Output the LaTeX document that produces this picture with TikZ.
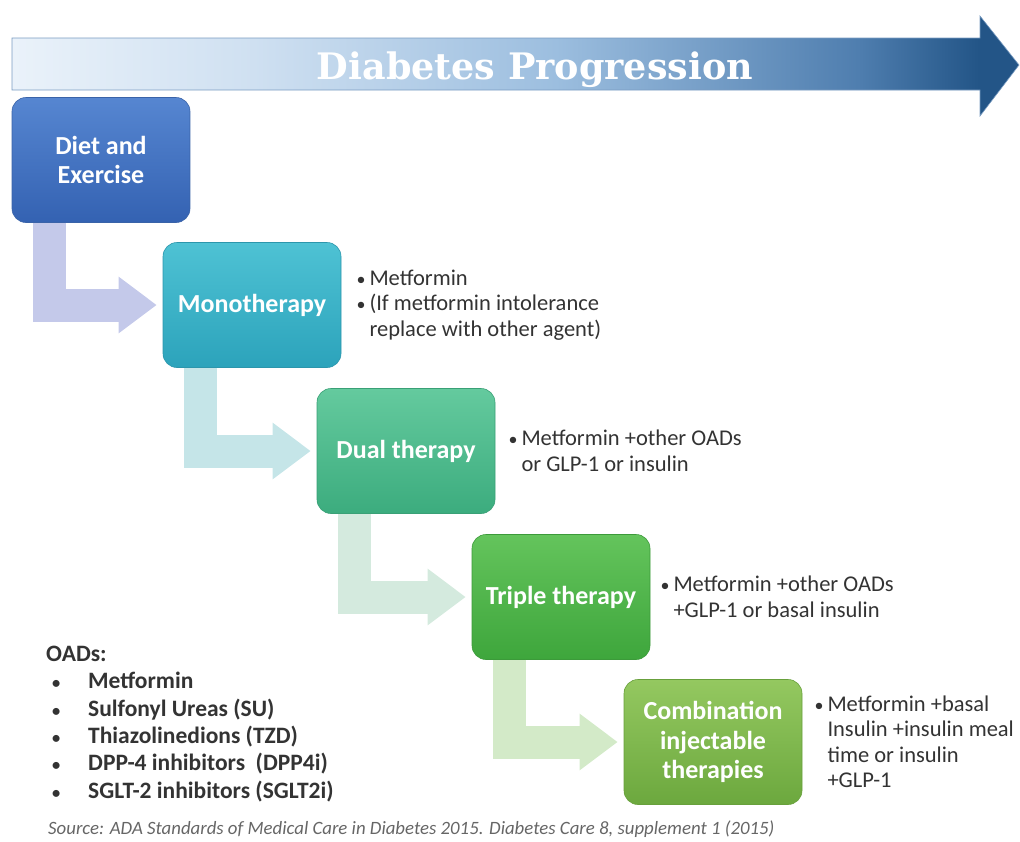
\documentclass[tikz,border=0pt]{standalone}
\usepackage{fontspec}
\setmainfont{Carlito}
\newfontfamily\titlefont{DejaVu Serif}
\usetikzlibrary{positioning,arrows.meta}

\definecolor{barA}{HTML}{EAF2FA}
\definecolor{barB}{HTML}{CFE0F1}
\definecolor{barC}{HTML}{9CBEDF}
\definecolor{barD}{HTML}{4F7EAF}
\definecolor{barE}{HTML}{235587}
\definecolor{barEdge}{HTML}{7A9CC2}
\definecolor{notegray}{HTML}{333333}
\pgfdeclarehorizontalshading{progress}{100bp}{color(0bp)=(barA); color(25bp)=(barA); color(37bp)=(barB); color(52bp)=(barC); color(67bp)=(barD); color(73bp)=(barE); color(100bp)=(barE)}

\newcommand{\bul}{\makebox[13pt][l]{\scalebox{0.8}{•}}}
\newcommand{\hang}{\hspace*{13pt}}
\newcommand{\oadbul}{\makebox[42pt][l]{\hspace*{6pt}\scalebox{0.7}{•}}}

\begin{document}
\begin{tikzpicture}
        [x=1pt, y=-1pt,
        stage/.style={rounded corners=14pt, minimum width=178pt, minimum height=125pt, text=white, align=center, line width=0.6pt, font=\bfseries\fontsize{26}{29.5}\selectfont},
        elbow/.style={line width=33pt, line join=miter, -{Triangle[length=38pt,width=54pt]}},
        note/.style={align=left, text=notegray, inner sep=2pt, font=\fontsize{22.5}{25.5}\selectfont}]

        \useasboundingbox (0,0) rectangle (1020,841);

        % big arrow and title
        \shade[shading=progress, draw=barEdge, line width=0.6pt] (12,38) -- (980,38) -- (980,16) -- (1019,65) -- (980,116) -- (980,90) -- (12,90) -- cycle;
        \node[anchor=base, text=white, font=\titlefont\bfseries\fontsize{36.5}{36.5}\selectfont] (title) at (535,79) {Diabetes Progression};

        % therapy stages
        \node[stage, top color={rgb,255:red,86;green,134;blue,209}, bottom color={rgb,255:red,52;green,98;blue,178}, draw={rgb,255:red,58;green,99;blue,168}] (diet) at (101,160) {Diet and\\Exercise};
        \node[stage, top color={rgb,255:red,78;green,194;blue,212}, bottom color={rgb,255:red,44;green,163;blue,187}, draw={rgb,255:red,44;green,150;blue,172}] (mono) at (252,305) {Monotherapy};
        \node[stage, top color={rgb,255:red,100;green,202;blue,158}, bottom color={rgb,255:red,60;green,172;blue,126}, draw={rgb,255:red,58;green,160;blue,118}] (dual) at (406,451) {Dual therapy};
        \node[stage, top color={rgb,255:red,100;green,196;blue,92}, bottom color={rgb,255:red,62;green,166;blue,60}, draw={rgb,255:red,60;green,154;blue,58}] (triple) at (561,597) {Triple therapy};
        \node[stage, top color={rgb,255:red,148;green,200;blue,96}, bottom color={rgb,255:red,108;green,168;blue,62}, draw={rgb,255:red,104;green,160;blue,60}] (combo) at (713,742) {Combination\\injectable\\therapies};

        % elbow arrows between stages
        \draw[elbow, draw={rgb,255:red,196;green,201;blue,234}] ([xshift=38pt]diet.south west) |- ([xshift=-6pt]mono.west);
        \draw[elbow, draw={rgb,255:red,197;green,229;blue,232}] ([xshift=38pt]mono.south west) |- ([xshift=-6pt]dual.west);
        \draw[elbow, draw={rgb,255:red,212;green,234;blue,222}] ([xshift=38pt]dual.south west) |- ([xshift=-6pt]triple.west);
        \draw[elbow, draw={rgb,255:red,211;green,234;blue,200}] ([xshift=38pt]triple.south west) |- ([xshift=-6pt]combo.west);

        % drugs for each stage
        \node[note, right=13pt of mono] (monotext) {\bul Metformin\\\bul(If metformin intolerance\\\hang replace with other agent)};
        \node[note, right=11pt of dual] (dualtext) {\bul Metformin +other OADs\\\hang or GLP-1 or insulin};
        \node[note, right=8pt of triple] (tripletext) {\bul Metformin +other OADs\\\hang +GLP-1 or basal insulin};
        \node[note, right=10pt of combo] (combotext) {\bul Metformin +basal\\\hang Insulin +insulin meal\\\hang time or insulin\\\hang +GLP-1};

        % list of OADs and source
        \node[note, anchor=west, font=\bfseries\fontsize{23.5}{27.3}\selectfont] (oads) at (44,724) {OADs:\\\oadbul Metformin\\\oadbul Sulfonyl Ureas (SU)\\\oadbul Thiazolinedions (TZD)\\\oadbul DPP-4 inhibitors\ \ (DPP4i)\\\oadbul SGLT-2 inhibitors (SGLT2i)};
        \node[anchor=west, inner sep=2pt, text=black!60, font=\itshape\fontsize{18.8}{20}\selectfont] (source) at (46,829) {Source: ADA Standards of Medical Care in Diabetes 2015. Diabetes Care 8, supplement 1 (2015)};

        \end{tikzpicture}
\end{document}
